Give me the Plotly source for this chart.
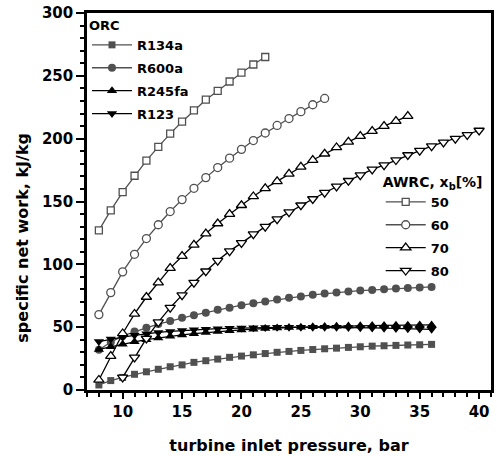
import plotly.graph_objects as go

# turbine inlet pressure grids (bar)
p_8_22 = list(range(8, 23))
p_8_27 = list(range(8, 28))
p_8_34 = list(range(8, 35))
p_10_40 = list(range(10, 41))
p_8_36 = list(range(8, 37))

# AWRC specific net work (kJ/kg) for ammonia mass fraction x_b
awrc_50 = [127, 143, 157.5, 170.5, 182.5, 193.5, 204, 213.5, 222.5, 231, 238, 245.5,
           252.5, 259, 265]
awrc_60 = [60, 77.5, 94, 108, 120.5, 131.5, 142, 151.5, 160.5, 169, 177, 184.5, 191.5,
           198.5, 204.5, 210.5, 216, 221.5, 227, 232]
awrc_70 = [8, 27, 45, 60.5, 74, 85.5, 97, 106.5, 115.5, 124.5, 132.5, 140, 147, 154,
           160.5, 166, 172, 177.5, 183, 188, 193, 197.5, 202, 206, 210, 214, 218]
awrc_80 = [10, 26, 41, 54, 65.5, 75.5, 85.5, 94.5, 103, 110.5, 117, 124, 130, 136,
           141.5, 147, 152, 157, 162, 166.5, 171, 175.5, 179, 183, 187, 190.5, 194,
           197, 200, 203, 206.5]

# ORC specific net work (kJ/kg)
r134a = [4, 7.5, 10, 12.5, 14.5, 16.5, 18.5, 20, 22, 23.3, 24.6, 26, 27, 28, 29, 30,
         30.7, 31.5, 32.2, 32.8, 33.3, 33.9, 34.4, 34.9, 35.2, 35.5, 35.8, 36, 36.3]
r600a = [32, 38, 43, 46.5, 49.5, 52.5, 55, 57.5, 59.5, 61.5, 63.8, 65.5, 67.5, 69,
         70.5, 72, 73.5, 74.5, 75.7, 76.7, 77.5, 78.3, 79.1, 79.6, 80.2, 80.7, 81.2,
         81.6, 82]
r245fa = [32.3, 34.5, 36.5, 38.3, 40, 41.4, 42.7, 43.8, 44.8, 45.7, 46.5, 47.2, 47.8,
          48.4, 48.9, 49.3, 49.7, 50, 50.3, 50.6, 50.8, 51, 51.2, 51.3, 51.4, 51.5,
          51.6, 51.7, 51.8]
r123 = [38.5, 40.5, 42, 43.5, 44.8, 45.8, 46.6, 47.3, 47.9, 48.4, 48.8, 49.1, 49.4,
        49.6, 49.8, 49.9, 50, 50, 50, 50, 49.9, 49.8, 49.6, 49.4, 49.2, 49, 48.8,
        48.5, 48.3]

FONT = "DejaVu Sans, Verdana, sans-serif"
GRAY = "#505050"
BLACK = "#000000"

fig = go.Figure()

orc = [
    ("R134a", p_8_36, r134a, "square", GRAY, 7),
    ("R600a", p_8_36, r600a, "circle", GRAY, 8),
    ("R245fa", p_8_36, r245fa, "triangle-up", BLACK, 9),
    ("R123", p_8_36, r123, "triangle-down", BLACK, 9),
]
for name, x, y, sym, col, size in orc:
    fig.add_trace(go.Scatter(
        x=x, y=y, name=name, mode="lines+markers", legend="legend",
        legendgroup=name,
        line=dict(color=col, width=1.3),
        marker=dict(symbol=sym, size=size, color=col, line=dict(width=0)),
    ))

awrc = [
    ("50", p_8_22, awrc_50, "square", GRAY, 7),
    ("60", p_8_27, awrc_60, "circle", GRAY, 8),
    ("70", p_8_34, awrc_70, "triangle-up", BLACK, 9),
    ("80", p_10_40, awrc_80, "triangle-down", BLACK, 9),
]
for name, x, y, sym, col, size in awrc:
    fig.add_trace(go.Scatter(
        x=x, y=y, name=name, mode="lines+markers", legend="legend2",
        legendgroup="awrc" + name,
        line=dict(color=col, width=1.3),
        marker=dict(symbol=sym, size=size, color="white",
                    line=dict(color=col, width=1.3)),
    ))

tickfont = dict(family=FONT, size=15, color="black", weight="bold")
titlefont = dict(family=FONT, size=16, color="black", weight="bold")
legfont = dict(family=FONT, size=13, color="black", weight="bold")

fig.update_layout(
    width=497, height=456,
    margin=dict(l=87, r=3, t=13, b=65),
    paper_bgcolor="white", plot_bgcolor="white",
    showlegend=True,
    legend=dict(
        title=dict(text="ORC", font=legfont),
        font=legfont, x=0.0, xanchor="left", y=1.0, yanchor="top",
        bgcolor="rgba(0,0,0,0)", itemwidth=40, tracegroupgap=3,
        traceorder="grouped",
    ),
    legend2=dict(
        title=dict(text="AWRC, x<sub>b</sub>[%]",
                   font=dict(family=FONT, size=14, color="black", weight="bold")),
        font=legfont, x=0.727, xanchor="left", y=0.587, yanchor="top",
        bgcolor="rgba(0,0,0,0)", itemwidth=40, tracegroupgap=3,
        traceorder="grouped",
    ),
    annotations=[dict(
        text="specific net work, kJ/kg", xref="paper", yref="paper",
        x=-0.16, y=0.405, xanchor="center", yanchor="middle", textangle=-90,
        showarrow=False, font=titlefont,
    )],
    xaxis=dict(
        range=[7, 41], tickmode="array", tickvals=[10, 15, 20, 25, 30, 35, 40],
        ticks="outside", ticklen=6, tickwidth=2, tickcolor="black",
        minor=dict(dtick=1, ticks="outside", ticklen=4, tickwidth=2, tickcolor="black"),
        showline=True, linewidth=2.5, linecolor="black", mirror=True,
        showgrid=False, zeroline=False, tickfont=tickfont,
        title=dict(text="turbine inlet pressure, bar", font=titlefont, standoff=21),
    ),
    yaxis=dict(
        range=[0, 300], tickmode="array", tickvals=[0, 50, 100, 150, 200, 250, 300],
        ticks="outside", ticklen=8, tickwidth=2, tickcolor="black",
        minor=dict(dtick=10, ticks="outside", ticklen=4, tickwidth=2, tickcolor="black"),
        showline=True, linewidth=2.5, linecolor="black", mirror=True,
        showgrid=False, zeroline=False, tickfont=tickfont,
    ),
)

fig.write_html("out.html")
